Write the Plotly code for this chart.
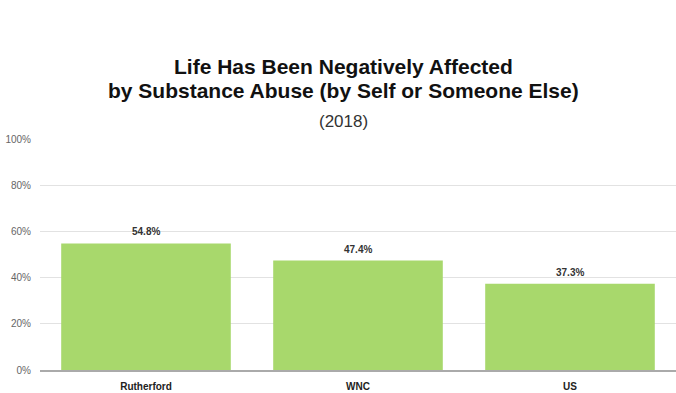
import plotly.graph_objects as go

categories = ["Rutherford", "WNC", "US"]
values = [0.548, 0.474, 0.373]
labels = ["54.8%", "47.4%", "37.3%"]
tick_vals = [0, 0.2, 0.4, 0.6, 0.8, 1.0]
tick_text = ["0%", "20%", "40%", "60%", "80%", "100%"]

FONT = "Liberation Sans, Arial, sans-serif"

fig = go.Figure(go.Bar(
    x=categories, y=values,
    marker=dict(color="#a8d86c", line=dict(width=0)),
    hoverinfo="skip",
))

# plot area: x 40..676 (636 px), y 139..370 (231 px)
def px_x(p):
    return (p - 40) / 636.0

def px_y(p):
    return (370 - p) / 231.0

annotations = [
    dict(text="<b>Life Has Been Negatively Affected</b>",
         xref="paper", yref="paper", x=px_x(343), y=px_y(67), xanchor="center", yanchor="middle",
         showarrow=False, font=dict(size=21, color="#111111", family=FONT)),
    dict(text="<b>by Substance Abuse (by Self or Someone Else)</b>",
         xref="paper", yref="paper", x=px_x(343), y=px_y(91), xanchor="center", yanchor="middle",
         showarrow=False, font=dict(size=21, color="#111111", family=FONT)),
    dict(text="(2018)", xref="paper", yref="paper", x=px_x(343), y=px_y(122),
         xanchor="center", yanchor="middle", showarrow=False,
         font=dict(size=17, color="#333333", family=FONT)),
]
for c, v, t in zip(categories, values, labels):
    annotations.append(dict(text="<b>%s</b>" % t, x=c, y=v, xref="x", yref="y",
                            yanchor="bottom", yshift=4, showarrow=False,
                            font=dict(size=10, color="#333333", family=FONT)))

fig.update_layout(
    width=676, height=393,
    margin=dict(l=40, r=0, t=139, b=23),
    paper_bgcolor="white", plot_bgcolor="white",
    bargap=0.2, showlegend=False,
    font=dict(family=FONT, color="#555555"),
    annotations=annotations,
)
fig.update_yaxes(range=[0, 1], tickvals=tick_vals, ticktext=tick_text,
                 tickfont=dict(size=10, color="#666666"), gridcolor="#e2e2e2",
                 zeroline=False, showline=False, ticks="", ticklen=0,
                 ticklabelstandoff=8, fixedrange=True)
fig.update_xaxes(showline=True, linecolor="#aaaaaa", linewidth=2, ticks="",
                 tickfont=dict(size=10, color="#222222"), ticklabelstandoff=6,
                 tickvals=categories, ticktext=["<b>%s</b>" % c for c in categories],
                 fixedrange=True)

fig.write_html("out.html", config={"displayModeBar": False})

with open("out.html", "r", encoding="utf-8") as f:
    html = f.read()
html = html.replace("<body>", '<body style="margin:0;padding:0;">', 1)
with open("out.html", "w", encoding="utf-8") as f:
    f.write(html)
